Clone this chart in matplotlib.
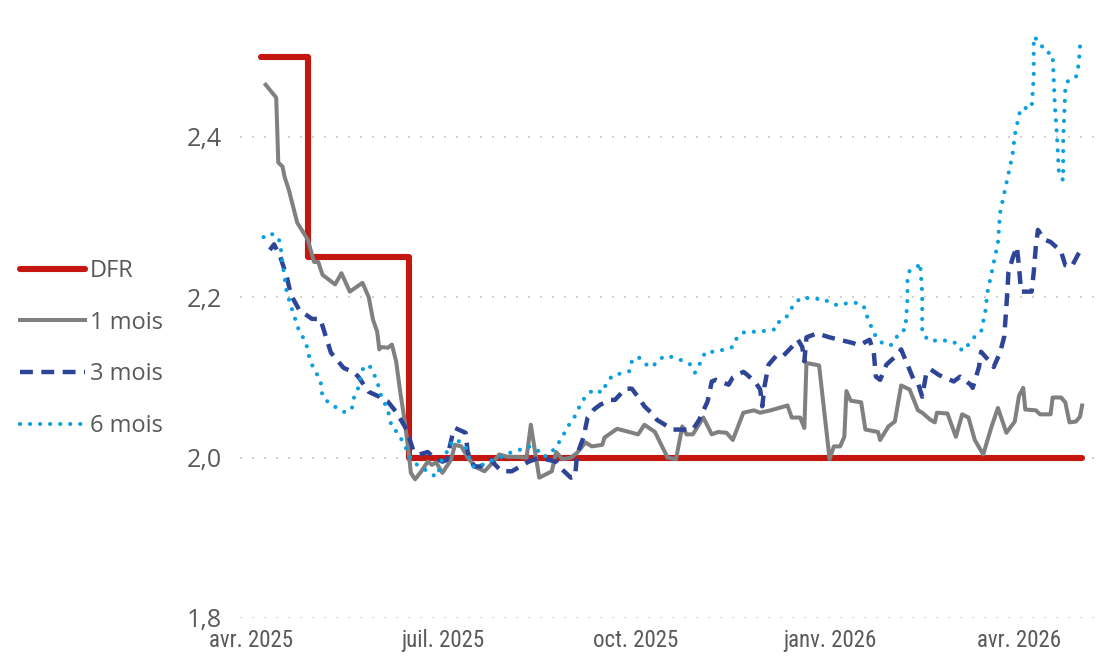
import numpy as np
import pandas as pd
import matplotlib
matplotlib.use('Agg')
import matplotlib.pyplot as plt
from matplotlib import font_manager
from matplotlib.ticker import FuncFormatter

# days counted from 1 April 2025
origin = pd.Timestamp('2025-04-01')

dfr_days = [5, 27, 75, 395]
dfr_vals = [2.50, 2.25, 2.00, 2.00]

m1_days = [7, 12, 13, 15, 16, 18, 22, 27, 30, 32, 34, 40, 43, 47, 53, 56, 58, 60, 61, 62,
           65, 67, 69, 71, 73, 75, 76, 78, 81, 84, 86, 88, 91, 95, 97, 100, 103, 107, 111, 115,
           118, 122, 126, 131, 133, 137, 143, 145, 148, 152, 155, 159, 162, 167, 168, 174, 184, 187, 192, 198,
           202, 205, 207, 210, 215, 219, 222, 226, 229, 234, 239, 242, 247, 255, 257, 261, 263, 264, 270, 275,
           277, 280, 282, 283, 285, 290, 292, 298, 299, 303, 306, 309, 313, 317, 319, 323, 325, 326, 331, 335,
           338, 341, 344, 348, 352, 355, 359, 363, 365, 367, 368, 373, 375, 380, 381, 385, 387, 389, 392, 394,
           395]
m1_vals = [2.465, 2.449, 2.368, 2.363, 2.350, 2.334, 2.293, 2.272, 2.244, 2.244, 2.228, 2.216, 2.230, 2.207, 2.218, 2.200, 2.172, 2.157, 2.135, 2.138,
           2.137, 2.141, 2.120, 2.081, 2.047, 2.006, 1.981, 1.973, 1.983, 1.995, 1.991, 1.994, 1.981, 1.997, 2.016, 2.014, 2.000, 1.988, 1.983, 1.994,
           2.004, 2.001, 2.001, 2.000, 2.041, 1.975, 1.983, 2.007, 1.998, 2.000, 2.006, 2.019, 2.014, 2.016, 2.025, 2.036, 2.029, 2.041, 2.032, 2.000,
           1.998, 2.039, 2.029, 2.029, 2.050, 2.029, 2.032, 2.031, 2.022, 2.056, 2.059, 2.056, 2.059, 2.065, 2.050, 2.050, 2.037, 2.118, 2.115, 1.998,
           2.014, 2.014, 2.026, 2.083, 2.071, 2.069, 2.035, 2.032, 2.022, 2.039, 2.045, 2.090, 2.085, 2.059, 2.056, 2.047, 2.044, 2.056, 2.055, 2.026,
           2.054, 2.050, 2.022, 2.004, 2.039, 2.062, 2.031, 2.045, 2.077, 2.087, 2.060, 2.059, 2.054, 2.054, 2.075, 2.075, 2.069, 2.044, 2.045, 2.051,
           2.065]

m3_days = [9, 11, 14, 17, 19, 23, 29, 33, 35, 38, 44, 49, 51, 56, 61, 65, 69, 74, 77, 80,
           84, 87, 91, 93, 96, 97, 102, 103, 106, 109, 114, 119, 124, 128, 132, 137, 145, 148, 152, 154,
           155, 158, 160, 163, 166, 171, 173, 178, 181, 185, 187, 191, 193, 198, 200, 210, 213, 217, 219, 221,
           227, 229, 234, 236, 240, 242, 243, 244, 246, 250, 253, 257, 260, 262, 263, 264, 269, 275, 286, 289,
           294, 296, 297, 299, 302, 307, 309, 312, 315, 317, 319, 321, 323, 327, 334, 337, 342, 343, 346, 347,
           351, 353, 356, 358, 359, 360, 362, 364, 365, 366, 371, 372, 373, 374, 377, 380, 383, 385, 387, 390,
           393, 394]
m3_vals = [2.259, 2.266, 2.250, 2.226, 2.203, 2.184, 2.173, 2.173, 2.156, 2.131, 2.112, 2.106, 2.101, 2.082, 2.076, 2.070, 2.057, 2.035, 2.010, 2.004,
           2.007, 2.000, 1.995, 1.997, 2.031, 2.037, 2.031, 2.007, 1.989, 1.989, 1.997, 1.983, 1.983, 1.989, 1.995, 2.000, 1.995, 1.985, 1.975, 1.976,
           2.004, 2.025, 2.050, 2.060, 2.066, 2.072, 2.072, 2.086, 2.086, 2.072, 2.064, 2.054, 2.047, 2.039, 2.035, 2.035, 2.047, 2.070, 2.095, 2.097,
           2.091, 2.100, 2.107, 2.103, 2.093, 2.085, 2.064, 2.088, 2.116, 2.128, 2.127, 2.138, 2.147, 2.138, 2.120, 2.150, 2.155, 2.150, 2.143, 2.140,
           2.147, 2.131, 2.101, 2.097, 2.116, 2.128, 2.135, 2.116, 2.097, 2.093, 2.076, 2.106, 2.110, 2.103, 2.095, 2.101, 2.091, 2.087, 2.113, 2.132,
           2.120, 2.113, 2.131, 2.151, 2.188, 2.231, 2.249, 2.263, 2.238, 2.207, 2.207, 2.231, 2.263, 2.284, 2.272, 2.269, 2.262, 2.257, 2.240, 2.238,
           2.253, 2.257]

m6_days = [6, 9, 13, 14, 15, 17, 20, 23, 26, 28, 30, 33, 34, 38, 41, 45, 48, 49, 51, 53,
           56, 58, 60, 62, 65, 67, 70, 72, 74, 76, 79, 81, 85, 88, 90, 91, 94, 96, 98, 102,
           104, 106, 110, 115, 119, 123, 128, 132, 136, 139, 142, 145, 148, 150, 153, 155, 157, 160, 163, 167,
           169, 172, 176, 180, 181, 184, 187, 191, 193, 197, 201, 205, 209, 211, 212, 214, 216, 221, 225, 229,
           231, 234, 239, 244, 249, 250, 254, 256, 259, 262, 267, 272, 276, 279, 284, 289, 292, 293, 295, 297,
           300, 304, 306, 308, 311, 312, 312, 313, 317, 318, 319, 319, 322, 327, 331, 336, 338, 341, 344, 347,
           349, 350, 353, 355, 356, 358, 360, 362, 363, 365, 366, 371, 372, 372, 375, 377, 381, 382, 383, 384,
           386, 386, 387, 388, 392, 393, 394, 394]
m6_vals = [2.275, 2.280, 2.275, 2.265, 2.243, 2.206, 2.181, 2.157, 2.145, 2.122, 2.110, 2.097, 2.076, 2.066, 2.062, 2.056, 2.062, 2.075, 2.087, 2.110,
           2.116, 2.107, 2.095, 2.076, 2.060, 2.037, 2.031, 2.020, 2.010, 1.998, 1.991, 1.988, 1.981, 1.976, 1.988, 2.000, 2.010, 2.022, 2.022, 2.014,
           1.997, 1.988, 1.991, 1.997, 2.001, 2.006, 2.010, 2.014, 2.010, 2.001, 2.004, 2.014, 2.025, 2.037, 2.047, 2.057, 2.069, 2.079, 2.085, 2.081,
           2.093, 2.103, 2.105, 2.108, 2.120, 2.126, 2.117, 2.113, 2.121, 2.127, 2.125, 2.121, 2.116, 2.106, 2.110, 2.121, 2.132, 2.132, 2.135, 2.138,
           2.150, 2.156, 2.157, 2.158, 2.160, 2.168, 2.173, 2.183, 2.194, 2.200, 2.198, 2.198, 2.192, 2.190, 2.193, 2.193, 2.186, 2.174, 2.162, 2.151,
           2.143, 2.140, 2.146, 2.156, 2.160, 2.197, 2.221, 2.233, 2.239, 2.243, 2.206, 2.156, 2.146, 2.146, 2.146, 2.142, 2.133, 2.141, 2.151, 2.157,
           2.182, 2.206, 2.243, 2.268, 2.305, 2.330, 2.354, 2.379, 2.402, 2.427, 2.436, 2.436, 2.475, 2.525, 2.518, 2.507, 2.503, 2.441, 2.404, 2.354,
           2.346, 2.396, 2.459, 2.469, 2.474, 2.484, 2.509, 2.521]

tick_dates = ['2025-04-01', '2025-07-01', '2025-10-01', '2026-01-01', '2026-04-01']
tick_labels = ['avr. 2025', 'juil. 2025', 'oct. 2025', 'janv. 2026', 'avr. 2026']
y_ticks = [1.8, 2.0, 2.2, 2.4]


def to_dates(days):
    return origin + pd.to_timedelta(np.array(days, dtype=float), unit='D')


def narrow_font():
    """
    Look for an installed condensed / narrow regular face
    for the date labels, None if there is none
    """
    prefer = ['Open Sans', 'Noto Sans', 'Liberation Sans Narrow', 'Roboto', 'DejaVu Sans', 'Lato', 'Inter']
    found = {}
    for f in font_manager.fontManager.ttflist:
        name = f.name.lower()
        narrow = 'condensed' in str(f.stretch).lower() or 'narrow' in name or 'condensed' in name
        if narrow and f.style == 'normal' and f.weight in (400, 'normal', 'regular', 'book'):
            found.setdefault(f.name, f.fname)
    for p in prefer:
        for n, path in found.items():
            if n.startswith(p):
                return path
    if found:
        return list(found.values())[0]
    return None


text_color = '#595959'
plt.rcParams['font.family'] = ['Open Sans', 'DejaVu Sans']
path = narrow_font()
if path:
    xprops = font_manager.FontProperties(fname=path, size=16.5)
else:
    xprops = font_manager.FontProperties(family='Roboto', size=15.5)

W, H = 1096, 663
fig = plt.figure(figsize=(W / 100, H / 100), dpi=100)
ax = fig.add_axes([240 / W, 45 / H, 1 - 240 / W, (618 - 8.6) / H])

ax.plot(to_dates(dfr_days), dfr_vals, drawstyle='steps-post', color='#C3170F',
        lw=4.4, solid_capstyle='round', label='DFR', zorder=3)
ax.plot(to_dates(m1_days), m1_vals, color='#808080', lw=2.9,
        solid_joinstyle='round', label='1 mois', zorder=4)
ax.plot(to_dates(m3_days), m3_vals, color='#2E4597', lw=3.2,
        linestyle=(0, (2.9, 1.9)), label='3 mois', zorder=5)
ax.plot(to_dates(m6_days), m6_vals, color='#0AA0E0', lw=3.0,
        linestyle=(0, (0.01, 2.4)), dash_capstyle='round', label='6 mois', zorder=6)

for yv in y_ticks:
    ax.axhline(yv, color='#C8C8C8', lw=1.2, linestyle=(0, (1.2, 6.0)), zorder=1)

ax.set_ylim(1.8, 2.56)
ax.set_xlim(origin + pd.Timedelta(days=-5.2), origin + pd.Timedelta(days=401.6))
ax.set_yticks(y_ticks)
ax.yaxis.set_major_formatter(FuncFormatter(lambda v, p: f'{v:.1f}'.replace('.', ',')))
ax.set_xticks(pd.to_datetime(tick_dates))
ax.set_xticklabels(tick_labels, fontproperties=xprops, color=text_color)
ax.tick_params(axis='y', length=0, pad=13, labelsize=18, labelcolor=text_color)
ax.tick_params(axis='x', length=0, pad=8)
for s in ax.spines.values():
    s.set_visible(False)

handles, labels = ax.get_legend_handles_labels()
leg = fig.legend(handles, labels, loc='upper left', bbox_to_anchor=(20 / W, 1 - 259 / H),
                 frameon=False, fontsize=17, handlelength=2.75, handletextpad=0.2,
                 labelspacing=1.17, borderpad=0, borderaxespad=0)
for t in leg.get_texts():
    t.set_color(text_color)

fig.savefig('out.png', dpi=100)
